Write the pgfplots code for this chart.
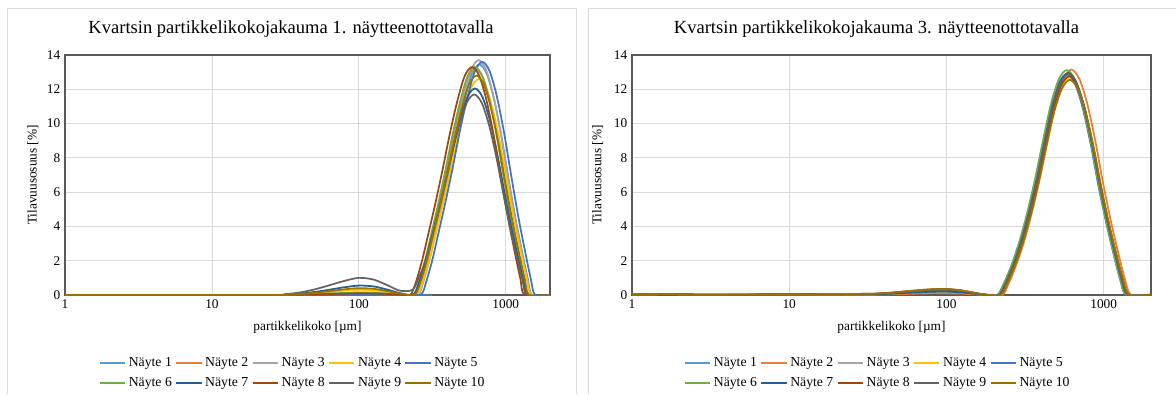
\documentclass[border=0pt]{standalone}
\usepackage{fontspec}
\setmainfont{Liberation Serif}
\usepackage{pgfplots}
\pgfplotsset{compat=1.18}
\definecolor{c1}{HTML}{5B9BD5}
\definecolor{c2}{HTML}{ED7D31}
\definecolor{c3}{HTML}{A5A5A5}
\definecolor{c4}{HTML}{FFC000}
\definecolor{c5}{HTML}{4472C4}
\definecolor{c6}{HTML}{70AD47}
\definecolor{c7}{HTML}{255E91}
\definecolor{c8}{HTML}{9E480E}
\definecolor{c9}{HTML}{636363}
\definecolor{c10}{HTML}{997300}
\definecolor{gridc}{HTML}{D9D9D9}
\definecolor{framec}{HTML}{595959}
\pgfplotsset{panel/.style={
  scale only axis, height=180pt, anchor=south west,
  xmin=0, xmax=3.301, ymin=0, ymax=14,
  xtick={0,1,2,3}, xticklabels={1,10,100,1000},
  ytick={0,2,...,14},
  grid=major, major grid style={gridc, line width=0.6pt},
  axis line style={framec, line width=0.8pt},
  major tick length=0pt,
  tick label style={font=\fontsize{10}{12}\selectfont},
  /pgf/number format/assume math mode=true,
  xlabel={partikkelikoko [µm]}, ylabel={Tilavuusosuus [\%]},
  label style={font=\fontsize{10.5}{12}\selectfont},
  every axis x label/.style={at={(axis description cs:0.5,-0.133)}, anchor=center},
  every axis y label/.style={at={(axis description cs:-0.066,0.5)}, rotate=90, anchor=center},
  every axis title shift=0pt,
  title style={font=\fontsize{13.9}{16}\selectfont, anchor=center},
  legend columns=5,
  legend cell align=left,
  legend style={draw=none, fill=none, anchor=center, font=\fontsize{10.3}{12}\selectfont,
    /tikz/every even column/.append style={column sep=0.5pt}, row sep=3pt},
  legend image code/.code={\draw[#1, line width=1.5pt, sharp plot] (0pt,0pt) -- (19pt,0pt);},
  every axis plot/.append style={line width=1.3pt, smooth, no markers},
  legend entries={Näyte 1,Näyte 2,Näyte 3,Näyte 4,Näyte 5,Näyte 6,Näyte 7,Näyte 8,Näyte 9,Näyte 10},
}}
\begin{document}
\begin{tikzpicture}
\useasboundingbox (0,0) rectangle (882pt,295.5pt);
\draw[gridc, line width=0.75pt] (5.25pt,0pt) -- (5.25pt,289.5pt) -- (432pt,289.5pt) -- (432pt,0pt);
\draw[gridc, line width=0.75pt] (441pt,0pt) -- (441pt,289.5pt) -- (882pt,289.5pt);
% ---------------- left panel ----------------
\begin{axis}[panel, at={(48.75pt,74.25pt)}, width=363.75pt,
  title={Kvartsin partikkelikokojakauma 1. näytteenottotavalla},
  title style={at={(axis description cs:0.466,1.11)}},
  legend style={at={(axis description cs:0.47,-0.325)}}]
\addplot[c1] coordinates {(0,0)(1.4,0)(1.5,0)(1.6,0.01)(1.7,0.02)(1.8,0.03)(1.9,0.04)(2.0,0.05)(2.1,0.05)(2.2,0.03)(2.28,0.01)(2.40,0)(2.44,0.81)(2.48,2.02)(2.52,3.50)(2.57,5.38)(2.62,7.40)(2.67,9.55)(2.72,11.43)(2.77,12.91)(2.82,13.45)(2.87,12.91)(2.92,11.43)(2.97,9.28)(3.02,6.73)(3.07,4.30)(3.12,2.15)(3.15,0.94)(3.18,0)(3.301,0)};
\addplot[c2] coordinates {(0,0)(1.4,0)(1.5,0)(1.6,0.01)(1.7,0.02)(1.8,0.03)(1.9,0.04)(2.0,0.05)(2.1,0.05)(2.2,0.03)(2.28,0.01)(2.375,0)(2.415,0.79)(2.455,1.98)(2.495,3.43)(2.545,5.28)(2.595,7.26)(2.645,9.37)(2.695,11.22)(2.745,12.67)(2.795,13.2)(2.845,12.67)(2.895,11.22)(2.945,9.11)(2.995,6.60)(3.045,4.22)(3.095,2.11)(3.125,0.92)(3.155,0)(3.301,0)};
\addplot[c3] coordinates {(0,0)(2.3,0)(2.395,0)(2.435,0.82)(2.475,2.06)(2.515,3.56)(2.565,5.48)(2.615,7.54)(2.665,9.73)(2.715,11.65)(2.765,13.15)(2.815,13.7)(2.865,13.15)(2.915,11.65)(2.965,9.45)(3.015,6.85)(3.065,4.38)(3.115,2.19)(3.145,0.96)(3.175,0)(3.301,0)};
\addplot[c4] coordinates {(0,0)(1.4,0)(1.5,0.02)(1.6,0.05)(1.7,0.10)(1.8,0.17)(1.9,0.25)(2.0,0.30)(2.1,0.27)(2.2,0.17)(2.28,0.06)(2.395,0.01)(2.435,0.76)(2.475,1.89)(2.515,3.28)(2.565,5.04)(2.615,6.93)(2.665,8.95)(2.715,10.71)(2.765,12.10)(2.815,12.6)(2.865,12.10)(2.915,10.71)(2.965,8.69)(3.015,6.30)(3.065,4.03)(3.115,2.02)(3.145,0.88)(3.175,0)(3.301,0)};
\addplot[c5] coordinates {(0,0)(2.3,0)(2.42,0)(2.46,0.82)(2.50,2.04)(2.54,3.54)(2.59,5.44)(2.64,7.48)(2.69,9.66)(2.74,11.56)(2.79,13.06)(2.84,13.6)(2.89,13.06)(2.94,11.56)(2.99,9.38)(3.04,6.80)(3.09,4.35)(3.14,2.18)(3.17,0.95)(3.20,0)(3.301,0)};
\addplot[c6] coordinates {(0,0)(1.4,0)(1.5,0.01)(1.6,0.02)(1.7,0.05)(1.8,0.09)(1.9,0.12)(2.0,0.15)(2.1,0.14)(2.2,0.08)(2.28,0.03)(2.37,0)(2.41,0.80)(2.45,2.00)(2.49,3.46)(2.54,5.32)(2.59,7.32)(2.64,9.44)(2.69,11.31)(2.74,12.77)(2.79,13.3)(2.84,12.77)(2.89,11.31)(2.94,9.18)(2.99,6.65)(3.04,4.26)(3.09,2.13)(3.12,0.93)(3.15,0)(3.301,0)};
\addplot[c7] coordinates {(0,0)(1.4,0)(1.5,0.03)(1.6,0.08)(1.7,0.18)(1.8,0.31)(1.9,0.45)(2.0,0.55)(2.1,0.50)(2.2,0.30)(2.28,0.11)(2.37,0.03)(2.41,0.72)(2.45,1.81)(2.49,3.13)(2.54,4.82)(2.59,6.63)(2.64,8.56)(2.69,10.24)(2.74,11.57)(2.79,12.05)(2.84,11.57)(2.89,10.24)(2.94,8.31)(2.99,6.03)(3.04,3.86)(3.09,1.93)(3.12,0.84)(3.15,0)(3.301,0)};
\addplot[c8] coordinates {(0,0)(1.4,0)(1.5,0.01)(1.6,0.02)(1.7,0.03)(1.8,0.06)(1.9,0.08)(2.0,0.10)(2.1,0.09)(2.2,0.06)(2.28,0.02)(2.35,0)(2.39,0.80)(2.43,2.00)(2.47,3.46)(2.52,5.32)(2.57,7.32)(2.62,9.44)(2.67,11.31)(2.72,12.77)(2.77,13.3)(2.82,12.77)(2.87,11.31)(2.92,9.18)(2.97,6.65)(3.02,4.26)(3.07,2.13)(3.10,0.93)(3.13,0)(3.301,0)};
\addplot[c9] coordinates {(0,0)(1.4,0)(1.5,0.05)(1.6,0.15)(1.7,0.33)(1.8,0.57)(1.9,0.82)(2.0,1.0)(2.1,0.9)(2.2,0.55)(2.28,0.25)(2.365,0.30)(2.405,0.95)(2.445,1.80)(2.485,3.04)(2.535,4.68)(2.585,6.44)(2.635,8.31)(2.685,9.95)(2.735,11.23)(2.785,11.7)(2.835,11.23)(2.885,9.95)(2.935,8.07)(2.985,5.85)(3.035,3.74)(3.085,1.87)(3.115,0.82)(3.145,0)(3.301,0)};
\addplot[c10] coordinates {(0,0)(1.4,0)(1.5,0.02)(1.6,0.06)(1.7,0.13)(1.8,0.23)(1.9,0.33)(2.0,0.40)(2.1,0.36)(2.2,0.22)(2.28,0.08)(2.38,0.02)(2.42,0.77)(2.46,1.92)(2.50,3.33)(2.55,5.12)(2.60,7.04)(2.65,9.09)(2.70,10.88)(2.75,12.29)(2.80,12.8)(2.85,12.29)(2.90,10.88)(2.95,8.83)(3.00,6.40)(3.05,4.10)(3.10,2.05)(3.13,0.90)(3.16,0)(3.301,0)};
\end{axis}
% ---------------- right panel ----------------
\begin{axis}[panel, at={(474pt,74.25pt)}, width=389.25pt,
  title={Kvartsin partikkelikokojakauma 3. näytteenottotavalla},
  title style={at={(axis description cs:0.471,1.11)}},
  legend style={at={(axis description cs:0.474,-0.325)}}]
\addplot[c1] coordinates {(0,0.02)(0.15,0.05)(0.3,0.05)(0.45,0.01)(0.7,0.02)(1.0,0.03)(1.3,0.05)(1.5,0.04)(1.6,0.06)(1.7,0.10)(1.8,0.15)(1.9,0.19)(2.0,0.20)(2.1,0.15)(2.2,0.05)(2.27,0)(2.335,0)(2.375,0.64)(2.425,1.73)(2.475,3.08)(2.525,4.75)(2.575,6.68)(2.625,8.87)(2.675,10.92)(2.725,12.34)(2.775,12.85)(2.825,12.34)(2.875,10.92)(2.925,8.87)(2.975,6.43)(3.025,4.24)(3.075,2.31)(3.115,0.90)(3.155,0)(3.301,0.02)};
\addplot[c2] coordinates {(0,0.02)(0.15,0.05)(0.3,0.05)(0.45,0.01)(0.7,0.02)(1.0,0.03)(1.3,0.04)(1.5,0.02)(1.6,0.03)(1.7,0.05)(1.8,0.08)(1.9,0.10)(2.0,0.10)(2.1,0.08)(2.2,0.03)(2.27,0)(2.355,0)(2.395,0.66)(2.445,1.78)(2.495,3.16)(2.545,4.87)(2.595,6.84)(2.645,9.07)(2.695,11.18)(2.745,12.62)(2.795,13.15)(2.845,12.62)(2.895,11.18)(2.945,9.07)(2.995,6.58)(3.045,4.34)(3.095,2.37)(3.135,0.92)(3.175,0)(3.301,0.02)};
\addplot[c3] coordinates {(0,0.02)(0.15,0.05)(0.3,0.05)(0.45,0.01)(0.7,0.02)(1.0,0.03)(1.3,0.05)(1.5,0.06)(1.6,0.09)(1.7,0.15)(1.8,0.23)(1.9,0.29)(2.0,0.30)(2.1,0.23)(2.2,0.08)(2.27,0)(2.34,0)(2.38,0.64)(2.43,1.73)(2.48,3.07)(2.53,4.74)(2.58,6.66)(2.63,8.83)(2.68,10.88)(2.73,12.29)(2.78,12.8)(2.83,12.29)(2.88,10.88)(2.93,8.83)(2.98,6.40)(3.03,4.22)(3.08,2.30)(3.12,0.90)(3.16,0)(3.301,0.02)};
\addplot[c4] coordinates {(0,0.02)(0.15,0.05)(0.3,0.05)(0.45,0.01)(0.7,0.02)(1.0,0.03)(1.3,0.05)(1.5,0.05)(1.6,0.08)(1.7,0.13)(1.8,0.19)(1.9,0.24)(2.0,0.25)(2.1,0.19)(2.2,0.06)(2.27,0)(2.34,0)(2.38,0.63)(2.43,1.70)(2.48,3.02)(2.53,4.66)(2.58,6.55)(2.63,8.69)(2.68,10.71)(2.73,12.10)(2.78,12.6)(2.83,12.10)(2.88,10.71)(2.93,8.69)(2.98,6.30)(3.03,4.16)(3.08,2.27)(3.12,0.88)(3.16,0)(3.301,0.02)};
\addplot[c5] coordinates {(0,0.02)(0.15,0.05)(0.3,0.05)(0.45,0.01)(0.7,0.02)(1.0,0.03)(1.3,0.05)(1.5,0.05)(1.6,0.08)(1.7,0.13)(1.8,0.19)(1.9,0.24)(2.0,0.25)(2.1,0.19)(2.2,0.06)(2.27,0)(2.325,0)(2.365,0.65)(2.415,1.74)(2.465,3.10)(2.515,4.77)(2.565,6.71)(2.615,8.90)(2.665,10.97)(2.715,12.38)(2.765,12.9)(2.815,12.38)(2.865,10.97)(2.915,8.90)(2.965,6.45)(3.015,4.26)(3.065,2.32)(3.105,0.90)(3.145,0)(3.301,0.02)};
\addplot[c6] coordinates {(0,0.02)(0.15,0.05)(0.3,0.05)(0.45,0.01)(0.7,0.02)(1.0,0.03)(1.3,0.05)(1.5,0.04)(1.6,0.06)(1.7,0.10)(1.8,0.15)(1.9,0.19)(2.0,0.20)(2.1,0.15)(2.2,0.05)(2.27,0)(2.325,0)(2.365,0.66)(2.415,1.77)(2.465,3.15)(2.515,4.85)(2.565,6.82)(2.615,9.05)(2.665,11.15)(2.715,12.60)(2.765,13.12)(2.815,12.60)(2.865,11.15)(2.915,9.05)(2.965,6.56)(3.015,4.33)(3.065,2.36)(3.105,0.92)(3.145,0)(3.301,0.02)};
\addplot[c7] coordinates {(0,0.02)(0.15,0.05)(0.3,0.05)(0.45,0.01)(0.7,0.02)(1.0,0.03)(1.3,0.05)(1.5,0.04)(1.6,0.06)(1.7,0.10)(1.8,0.15)(1.9,0.19)(2.0,0.20)(2.1,0.15)(2.2,0.05)(2.27,0)(2.335,0)(2.375,0.65)(2.425,1.75)(2.475,3.11)(2.525,4.79)(2.575,6.73)(2.625,8.94)(2.675,11.01)(2.725,12.43)(2.775,12.95)(2.825,12.43)(2.875,11.01)(2.925,8.94)(2.975,6.48)(3.025,4.27)(3.075,2.33)(3.115,0.91)(3.155,0)(3.301,0.02)};
\addplot[c8] coordinates {(0,0.02)(0.15,0.05)(0.3,0.05)(0.45,0.01)(0.7,0.02)(1.0,0.04)(1.3,0.06)(1.5,0.07)(1.6,0.10)(1.7,0.18)(1.8,0.26)(1.9,0.33)(2.0,0.35)(2.1,0.26)(2.2,0.09)(2.27,0)(2.34,0)(2.38,0.64)(2.43,1.72)(2.48,3.06)(2.53,4.72)(2.58,6.63)(2.63,8.80)(2.68,10.84)(2.73,12.24)(2.78,12.75)(2.83,12.24)(2.88,10.84)(2.93,8.80)(2.98,6.38)(3.03,4.21)(3.08,2.30)(3.12,0.89)(3.16,0)(3.301,0.02)};
\addplot[c9] coordinates {(0,0.02)(0.15,0.05)(0.3,0.05)(0.45,0.01)(0.7,0.02)(1.0,0.03)(1.3,0.05)(1.5,0.06)(1.6,0.09)(1.7,0.15)(1.8,0.23)(1.9,0.29)(2.0,0.30)(2.1,0.23)(2.2,0.08)(2.27,0)(2.335,0)(2.375,0.65)(2.425,1.74)(2.475,3.10)(2.525,4.77)(2.575,6.71)(2.625,8.90)(2.675,10.97)(2.725,12.38)(2.775,12.9)(2.825,12.38)(2.875,10.97)(2.925,8.90)(2.975,6.45)(3.025,4.26)(3.075,2.32)(3.115,0.90)(3.155,0)(3.301,0.02)};
\addplot[c10] coordinates {(0,0.02)(0.15,0.06)(0.3,0.05)(0.45,0.01)(0.7,0.03)(1.0,0.04)(1.3,0.06)(1.5,0.07)(1.6,0.10)(1.7,0.18)(1.8,0.26)(1.9,0.33)(2.0,0.35)(2.1,0.26)(2.2,0.09)(2.27,0)(2.345,0)(2.385,0.63)(2.435,1.69)(2.485,3.01)(2.535,4.64)(2.585,6.53)(2.635,8.66)(2.685,10.67)(2.735,12.05)(2.785,12.55)(2.835,12.05)(2.885,10.67)(2.935,8.66)(2.985,6.28)(3.035,4.14)(3.085,2.26)(3.125,0.88)(3.165,0)(3.301,0.03)};
\end{axis}
\end{tikzpicture}
\end{document}
